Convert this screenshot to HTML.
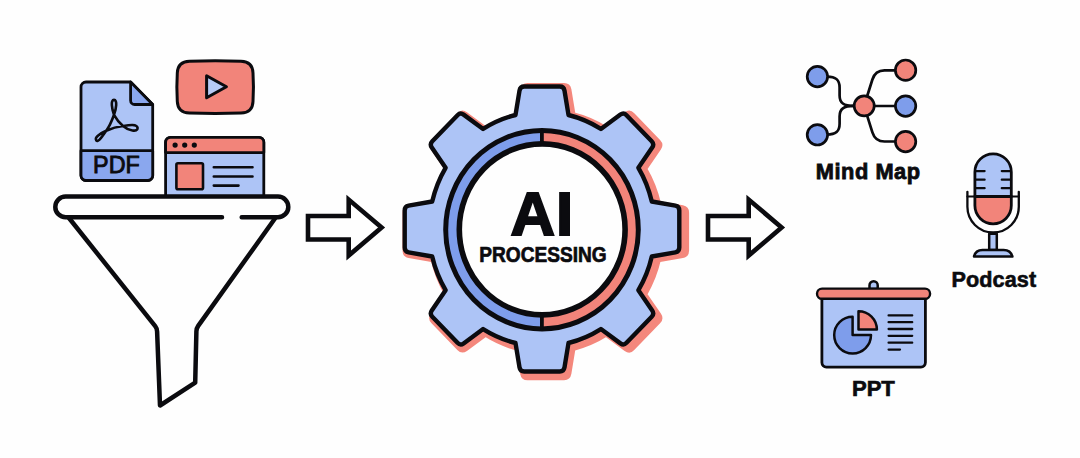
<!DOCTYPE html>
<html lang="en">
<head>
<meta charset="utf-8">
<title>AI Processing Pipeline</title>
<style>
  html, body { margin:0; padding:0; background:#FEFEFE; }
  body { width:1080px; height:458px; overflow:hidden; }
  svg { display:block; }
  text { font-family:"Liberation Sans", Arial, sans-serif; font-weight:700; fill:#0B0B0F; }
</style>
</head>
<body>
<svg width="1080" height="458" viewBox="0 0 1080 458">
  <rect width="1080" height="458" fill="#FEFEFE"/>

  <!-- ===== Sources: PDF / video / web page ===== -->
  <g stroke="#0B0B0F" stroke-linejoin="round" stroke-linecap="round">
    <!-- PDF document -->
    <path d="M86,82 H130.6 L152.7,104.5 V175.5 a5,5 0 0 1 -5,5 H86 a5,5 0 0 1 -5,-5 V87 a5,5 0 0 1 5,-5 Z" fill="#ADC4F6" stroke-width="2.8"/>
    <path d="M81,150.7 H152.7 V175.5 a5,5 0 0 1 -5,5 H86 a5,5 0 0 1 -5,-5 Z" fill="#8AA7EE" stroke-width="2.8"/>
    <path d="M130.6,82 V100.5 a4,4 0 0 0 4,4 H152.7 Z" fill="#8AA7EE" stroke-width="2.8"/>
    <text x="116.4" y="173.4" font-size="24" text-anchor="middle" textLength="46.6" lengthAdjust="spacingAndGlyphs" stroke-width=".9" stroke-linejoin="miter" style="font-weight:400">PDF</text>
    <!-- acrobat mark -->
    <path d="M114.0,114.8 C111.9,108.8 110.4,99.9 114.0,99.9 C117.6,99.9 116.2,108.8 114.0,114.8 C112.2,119.9 109.8,126.2 106.2,130.7 C103.2,134.6 98.6,143.0 96.2,140.3 C93.8,137.4 101.4,132.8 106.2,130.7 C111.6,128.3 117.6,126.6 123.0,126.0 C128.4,125.1 137.1,123.5 137.6,128.0 C137.8,132.6 128.4,130.7 123.0,126.0 C119.4,123.0 116.7,119.6 114.0,114.8 Z" fill="none" stroke-width="2.6"/>

    <!-- video -->
    <path d="M189.5,61.3 Q215,60.4 241,61.3 Q252.6,61.7 253,73 Q253.9,87 253,101.5 Q252.6,112.8 241,113.1 Q215,113.9 189.5,113.1 Q177.8,112.8 177.3,101.5 Q176.4,87 177.3,73 Q177.8,61.7 189.5,61.3 Z" fill="#F2847A" stroke-width="3"/>
    <path d="M206.6,75.8 L226.4,86.8 L206.6,97.8 Z" fill="#B7CAF6" stroke-width="3"/>

    <!-- web page -->
    <path d="M165.6,198 V142.3 a5,5 0 0 1 5,-5 H258.8 a5,5 0 0 1 5,5 V198 Z" fill="#ADC4F6" stroke-width="2.8"/>
    <path d="M165.6,152.6 V142.3 a5,5 0 0 1 5,-5 H258.8 a5,5 0 0 1 5,5 V152.6 Z" fill="#F2847A" stroke-width="2.8"/>
    <circle cx="175.1" cy="145.1" r="2.6" fill="#0B0B0F" stroke="none"/>
    <circle cx="184.7" cy="145.1" r="2.6" fill="#0B0B0F" stroke="none"/>
    <circle cx="194.3" cy="145.1" r="2.6" fill="#0B0B0F" stroke="none"/>
    <rect x="176.4" y="163.3" width="26.6" height="26" rx="1.5" fill="#F2847A" stroke-width="2.6"/>
    <path d="M213.8,167.3 H252.5 M213.8,176.5 H252.5 M213.8,185.6 H238.5" fill="none" stroke-width="2.6"/>
  </g>

  <!-- ===== Funnel ===== -->
  <g stroke="#0B0B0F" stroke-width="4.5" stroke-linejoin="round" stroke-linecap="round">
    <path d="M69,218 L155.2,326.2 Q157,328.5 157.1,331.5 L160,405.5 L195.2,382.6 L196.4,331.3 Q196.5,328.3 198.2,325.9 L275.3,218" fill="#FEFEFE"/>
    <rect x="55.3" y="196.6" width="233" height="20.6" rx="10.3" fill="#FEFEFE" stroke="none"/>
    <path d="M222,217.2 H65.6 a10.3,10.3 0 0 1 0,-20.6 H278 a10.3,10.3 0 0 1 0,20.6 H241.7" fill="none"/>
  </g>

  <!-- ===== Arrows ===== -->
  <g fill="#FEFEFE" stroke="#0B0B0F" stroke-width="4.6" stroke-linejoin="miter" stroke-miterlimit="10">
    <path d="M308,216 H348.7 V199.6 L381.6,227.5 L348.7,255.6 V239.5 H308 Z"/>
    <path d="M708,216 H748.7 V199.6 L781.6,227.5 L748.7,255.6 V239.5 H708 Z"/>
  </g>

  <!-- ===== Gear ===== -->
  <path d="M515.5,115.0 L519.5,90.6 Q520.2,86.5 524.2,86.5 L559.8,86.5 Q563.8,86.5 564.5,90.6 L568.5,115.0 A113.0,117.3 0 0 1 600.9,128.9 L620.4,114.6 Q623.7,112.2 626.5,115.2 L651.7,141.3 Q654.5,144.2 652.2,147.6 L638.4,167.8 A113.0,117.3 0 0 1 651.8,201.5 L675.4,205.7 Q679.3,206.4 679.3,210.5 L679.3,247.5 Q679.3,251.6 675.4,252.3 L651.8,256.5 A113.0,117.3 0 0 1 638.4,290.2 L652.2,310.4 Q654.5,313.8 651.7,316.7 L626.5,342.8 Q623.7,345.8 620.4,343.4 L600.9,329.1 A113.0,117.3 0 0 1 568.5,343.0 L564.5,367.4 Q563.8,371.5 559.8,371.5 L524.2,371.5 Q520.2,371.5 519.5,367.4 L515.5,343.0 A113.0,117.3 0 0 1 483.1,329.1 L463.6,343.4 Q460.3,345.8 457.5,342.8 L432.3,316.7 Q429.5,313.8 431.8,310.4 L445.6,290.2 A113.0,117.3 0 0 1 432.2,256.5 L408.6,252.3 Q404.7,251.6 404.7,247.5 L404.7,210.5 Q404.7,206.4 408.6,205.7 L432.2,201.5 A113.0,117.3 0 0 1 445.6,167.8 L431.8,147.6 Q429.5,144.2 432.3,141.3 L457.5,115.2 Q460.3,112.2 463.6,114.6 L483.1,128.9 A113.0,117.3 0 0 1 515.5,115.0 Z" transform="translate(3.8,2.6) translate(542,229) scale(1.025) translate(-542,-229)" fill="#F4877C" stroke="#F4877C" stroke-width="5" stroke-linejoin="round"/>
  <path d="M515.5,115.0 L519.5,90.6 Q520.2,86.5 524.2,86.5 L559.8,86.5 Q563.8,86.5 564.5,90.6 L568.5,115.0 A113.0,117.3 0 0 1 600.9,128.9 L620.4,114.6 Q623.7,112.2 626.5,115.2 L651.7,141.3 Q654.5,144.2 652.2,147.6 L638.4,167.8 A113.0,117.3 0 0 1 651.8,201.5 L675.4,205.7 Q679.3,206.4 679.3,210.5 L679.3,247.5 Q679.3,251.6 675.4,252.3 L651.8,256.5 A113.0,117.3 0 0 1 638.4,290.2 L652.2,310.4 Q654.5,313.8 651.7,316.7 L626.5,342.8 Q623.7,345.8 620.4,343.4 L600.9,329.1 A113.0,117.3 0 0 1 568.5,343.0 L564.5,367.4 Q563.8,371.5 559.8,371.5 L524.2,371.5 Q520.2,371.5 519.5,367.4 L515.5,343.0 A113.0,117.3 0 0 1 483.1,329.1 L463.6,343.4 Q460.3,345.8 457.5,342.8 L432.3,316.7 Q429.5,313.8 431.8,310.4 L445.6,290.2 A113.0,117.3 0 0 1 432.2,256.5 L408.6,252.3 Q404.7,251.6 404.7,247.5 L404.7,210.5 Q404.7,206.4 408.6,205.7 L432.2,201.5 A113.0,117.3 0 0 1 445.6,167.8 L431.8,147.6 Q429.5,144.2 432.3,141.3 L457.5,115.2 Q460.3,112.2 463.6,114.6 L483.1,128.9 A113.0,117.3 0 0 1 515.5,115.0 Z" fill="#ADC4F6" stroke="#0B0B0F" stroke-width="4.4" stroke-linejoin="round"/>
  <!-- ring -->
  <ellipse cx="542" cy="229.7" rx="96.3" ry="99.2" fill="#7E9DEB" stroke="none"/>
  <path d="M542,130.5 A96.3,99.2 0 0 1 542,328.9 Z" fill="#F2847A"/>
  <ellipse cx="542" cy="229.7" rx="96.3" ry="99.2" fill="none" stroke="#0B0B0F" stroke-width="5"/>
  <path d="M541.9,130.5 V148 M541.9,311 V328.9" stroke="#0B0B0F" stroke-width="3.8" fill="none"/>
  <ellipse cx="542.2" cy="229.4" rx="82.9" ry="85.5" fill="#FEFEFE" stroke="#0B0B0F" stroke-width="5.6"/>
  <text x="542.4" y="234.6" font-size="61.6" text-anchor="middle" letter-spacing="1" stroke="#0B0B0F" stroke-width="2" stroke-linejoin="miter">AI</text>
  <text x="543" y="262.1" font-size="21.6" text-anchor="middle" textLength="127.4" lengthAdjust="spacingAndGlyphs" stroke="#0B0B0F" stroke-width=".7" stroke-linejoin="miter">PROCESSING</text>

  <!-- ===== Mind Map ===== -->
  <g stroke="#0B0B0F" stroke-width="2.7" stroke-linecap="round" stroke-linejoin="round" fill="none">
    <path d="M827,76.6 C835.5,76.6 839.6,79.5 839.6,87.5 V95.5 C839.6,103 843.5,105.9 854,105.9"/>
    <path d="M827,134.6 C835.5,134.6 839.6,131.7 839.6,123.7 V116.3 C839.6,108.8 843.5,105.9 854,105.9"/>
    <path d="M867.2,96 L872.4,79.5 Q875.2,70.3 884.5,70.3 H896"/>
    <path d="M867.2,115.8 L872.4,132.3 Q875.2,141.5 884.5,141.5 H896"/>
    <path d="M875,106 H896"/>
    <g stroke-width="2.7">
    <circle cx="817.4" cy="76.6" r="10.2" fill="#7E9DEB"/>
    <circle cx="817.4" cy="134.8" r="10.2" fill="#7E9DEB"/>
    <circle cx="864.2" cy="105.9" r="10" fill="#F2847A"/>
    <circle cx="905.6" cy="70.2" r="10.2" fill="#F2847A"/>
    <circle cx="905.6" cy="106.1" r="10.2" fill="#7E9DEB"/>
    <circle cx="905.6" cy="141.6" r="10.2" fill="#F2847A"/>
    </g>
  </g>
  <text x="868.2" y="178.8" font-size="21.8" text-anchor="middle" letter-spacing=".55" stroke="#0B0B0F" stroke-width=".8" stroke-linejoin="miter">Mind Map</text>

  <!-- ===== Podcast ===== -->
  <g stroke="#0B0B0F" stroke-width="2.8" stroke-linecap="round" stroke-linejoin="round">
    <path d="M967.4,191.8 V206.8 a25.7,25.7 0 0 0 51.4,0 V191.8" fill="none" stroke-width="2.3"/>
    <path d="M967.4,196.5 H1018.8" fill="none" stroke-width="2"/>
    <path d="M974.9,196.5 V172 a18.2,18.2 0 0 1 36.4,0 V196.5 Z" fill="#ADC4F6"/>
    <path d="M974.9,196.5 H1011.3 V205.6 a18.2,18.2 0 0 1 -36.4,0 Z" fill="#F2847A"/>
    <path d="M974.9,196.5 H1011.3" fill="none" stroke-width="2"/>
    <path d="M976,171.1 H984.6 M976,179.7 H984.6 M976,188.2 H984.6 M1001.8,171.1 H1010.2 M1001.8,179.7 H1010.2 M1001.8,188.2 H1010.2" fill="none" stroke-width="2.3"/>
    <path d="M989.2,233.8 H996.8 V250 H989.2 Z" fill="#ADC4F6" stroke-width="2.5"/>
    <path d="M974,256.6 Q975.5,250 982.5,250 H1003.7 Q1010.7,250 1012.4,256.6 Z" fill="#ADC4F6" stroke-width="2.5"/>
  </g>
  <text x="993.8" y="286.8" font-size="21.6" text-anchor="middle" letter-spacing=".12" stroke="#0B0B0F" stroke-width=".6" stroke-linejoin="miter">Podcast</text>

  <!-- ===== PPT ===== -->
  <g stroke="#0B0B0F" stroke-width="2.8" stroke-linecap="round" stroke-linejoin="round">
    <path d="M869.5,289 V285.3 a4.1,4.1 0 0 1 8.2,0 V289 Z" fill="#ADC4F6" stroke-width="2.5"/>
    <path d="M821.9,298.5 H925.4 V362.6 a4.5,4.5 0 0 1 -4.5,4.5 H826.4 a4.5,4.5 0 0 1 -4.5,-4.5 Z" fill="#ADC4F6"/>
    <rect x="817" y="288.6" width="113.1" height="10.2" rx="5.1" fill="#F2847A" stroke-width="2.4"/>
    <path d="M852.6,335.1 V316.7 A18.4,18.4 0 1 0 871,335.1 Z" fill="#7E9DEB" stroke-width="2.5"/>
    <path d="M858.5,329.6 V311.2 A18.4,18.4 0 0 1 876.9,329.6 Z" fill="#F2847A" stroke-width="2.5"/>
    <path d="M888.6,315.4 H912.2 M888.6,322.2 H912.2 M888.6,329 H912.2 M888.6,335.8 H912.2 M888.6,342.7 H912.2 M888.6,349.6 H900" fill="none" stroke-width="2.3"/>
  </g>
  <text x="873.4" y="396.4" font-size="22.8" text-anchor="middle" textLength="42.9" lengthAdjust="spacingAndGlyphs" stroke="#0B0B0F" stroke-width=".7" stroke-linejoin="miter">PPT</text>
</svg>
</body>
</html>
